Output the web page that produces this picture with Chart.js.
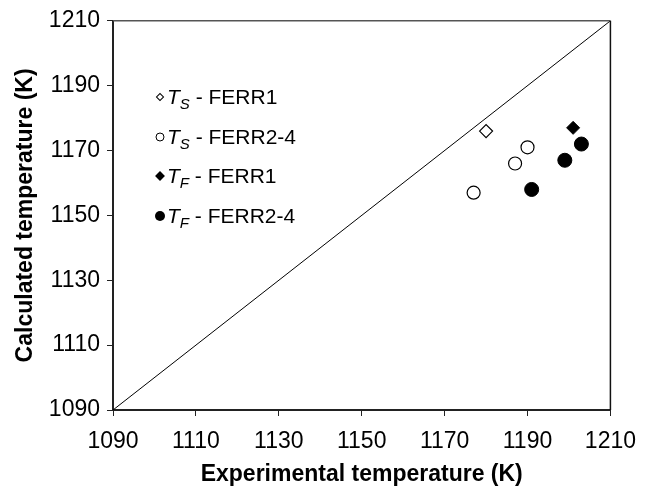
<!DOCTYPE html>
<html>
<head>
<meta charset="utf-8">
<script src="https://cdn.jsdelivr.net/npm/chart.js@4.4.1/dist/chart.umd.min.js"></script>
<style>
  html, body { margin: 0; padding: 0; background: #fff; }
  #wrap { position: relative; width: 648px; height: 495px; }
  #legend { position: absolute; left: 150px; top: 84px; font-family: "Liberation Sans", Arial, sans-serif; font-size: 21px; color: #000; }
  .item { position: relative; height: 39.5px; line-height: 26px; padding-left: 17px; white-space: nowrap; }
  .item sub { font-size: 15px; font-style: italic; vertical-align: -5px; line-height: 0; }
  .mk { position: absolute; top: 13px; left: 10px; transform: translate(-50%, -50%); box-sizing: border-box; }
  .oc { width: 9px; height: 9px; border: 1.2px solid #000; border-radius: 50%; background: #fff; }
  .fc { width: 10px; height: 10px; border-radius: 50%; background: #000; }
  .od { width: 6px; height: 6px; border: 1.2px solid #000; background: #fff; transform: translate(-50%, -50%) rotate(45deg); }
  .fd { width: 7px; height: 7px; background: #000; transform: translate(-50%, -50%) rotate(45deg); }
</style>
</head>
<body>
<div id="wrap">
  <canvas id="chart" width="648" height="495"></canvas>
  <div id="legend">
    <div class="item"><span class="mk od"></span><i>T</i><sub>S</sub> - FERR1</div>
    <div class="item"><span class="mk oc"></span><i>T</i><sub>S</sub> - FERR2-4</div>
    <div class="item"><span class="mk fd"></span><i>T</i><sub>F</sub> - FERR1</div>
    <div class="item"><span class="mk fc"></span><i>T</i><sub>F</sub> - FERR2-4</div>
  </div>
</div>
<script>
// axis range / ticks
const axisMin = 1090;
const axisMax = 1210;
const axisStep = 20;
const diagonal = [1090, 1210];

// T_S - FERR1
const tsFerr1X = [1180];
const tsFerr1Y = [1176];
// T_S - FERR2-4
const tsFerr24X = [1190, 1187, 1177];
const tsFerr24Y = [1171, 1166, 1157];
// T_F - FERR1
const tfFerr1X = [1201];
const tfFerr1Y = [1177];
// T_F - FERR2-4
const tfFerr24X = [1203, 1199, 1191];
const tfFerr24Y = [1172, 1167, 1158];

const pts = (xs, ys) => xs.map((x, i) => ({ x, y: ys[i] }));
const font = 'Liberation Sans, Arial, sans-serif';

// top and right frame of the plot box
const frame = {
  id: 'frame',
  afterDraw(chart) {
    const { ctx, chartArea: a } = chart;
    ctx.save();
    ctx.lineWidth = 1.5;
    ctx.strokeStyle = '#555';
    ctx.beginPath();
    ctx.moveTo(a.left, a.top);
    ctx.lineTo(a.right, a.top);
    ctx.stroke();
    ctx.strokeStyle = '#111';
    ctx.beginPath();
    ctx.moveTo(a.right, a.top);
    ctx.lineTo(a.right, a.bottom);
    ctx.stroke();
    ctx.restore();
  }
};

const axis = (title, pad) => ({
  type: 'linear',
  min: axisMin,
  max: axisMax,
  ticks: { stepSize: axisStep, color: '#000', padding: pad.tick, font: { family: font, size: 23 }, callback: v => String(v) },
  grid: { display: true, drawOnChartArea: false, drawTicks: true, tickLength: 6, tickColor: '#222', tickWidth: 1 },
  border: { display: true, color: '#222', width: 2 },
  title: { display: true, text: title, color: '#000', padding: pad.title, font: { family: font, size: 23, weight: 'bold' } }
});

const xAxis = axis('Experimental temperature (K)', { tick: 12, title: { top: 0, bottom: 7 } });
xAxis.afterFit = s => { s.height = 85; };
const yAxis = axis('Calculated temperature (K)', { tick: 7, title: { top: 12, bottom: 0 } });
yAxis.afterFit = s => { s.width = 113; };

new Chart(document.getElementById('chart'), {
  type: 'scatter',
  data: {
    datasets: [
      { type: 'line', data: pts(diagonal, diagonal), borderColor: '#000', borderWidth: 1, pointRadius: 0, fill: false, tension: 0 },
      { data: pts(tsFerr1X, tsFerr1Y), pointStyle: 'rectRot', pointRadius: 6.5, backgroundColor: '#fff', borderColor: '#000', borderWidth: 1.2 },
      { data: pts(tsFerr24X, tsFerr24Y), pointStyle: 'circle', pointRadius: 6.5, backgroundColor: '#fff', borderColor: '#000', borderWidth: 1.2 },
      { data: pts(tfFerr1X, tfFerr1Y), pointStyle: 'rectRot', pointRadius: 6.5, backgroundColor: '#000', borderColor: '#000', borderWidth: 1 },
      { data: pts(tfFerr24X, tfFerr24Y), pointStyle: 'circle', pointRadius: 7, backgroundColor: '#000', borderColor: '#000', borderWidth: 1 }
    ]
  },
  options: {
    responsive: false,
    animation: false,
    layout: { padding: { top: 15, right: 37, left: 0, bottom: 0 } },
    plugins: { legend: { display: false }, tooltip: { enabled: false } },
    scales: { x: xAxis, y: yAxis }
  },
  plugins: [frame]
});
</script>
</body>
</html>
